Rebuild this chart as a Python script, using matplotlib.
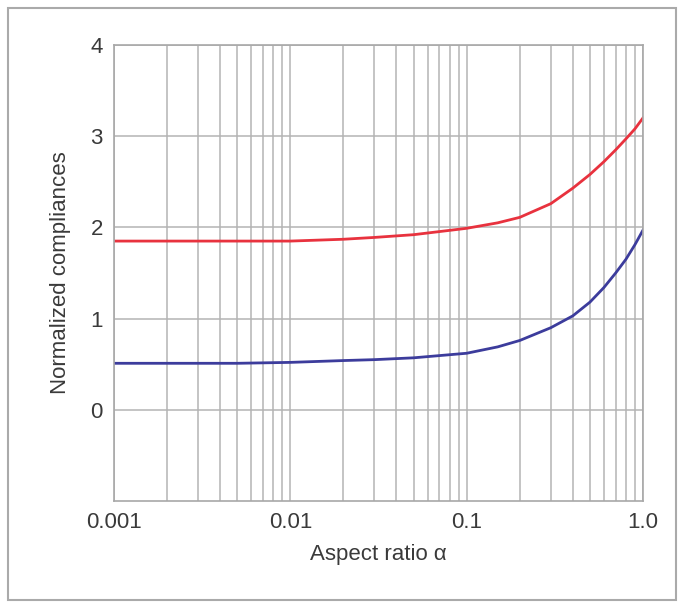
import numpy as np
import matplotlib.pyplot as plt
from matplotlib.patches import Rectangle
from matplotlib.ticker import FixedLocator, LogLocator, NullFormatter

plt.rcParams["font.family"] = ["Liberation Sans", "DejaVu Sans"]

# values
alpha = [0.001, 0.002, 0.005, 0.01, 0.02, 0.03, 0.05, 0.1, 0.15, 0.2,
         0.3, 0.4, 0.5, 0.6, 0.7, 0.8, 0.9, 1.0]
upper = [1.85, 1.85, 1.85, 1.85, 1.87, 1.89, 1.92, 1.99, 2.05, 2.11,
         2.26, 2.43, 2.58, 2.72, 2.85, 2.97, 3.08, 3.20]
lower = [0.51, 0.51, 0.51, 0.52, 0.54, 0.55, 0.57, 0.62, 0.69, 0.76,
         0.90, 1.03, 1.18, 1.34, 1.50, 1.65, 1.81, 1.97]

x_ticks = [0.001, 0.01, 0.1, 1.0]
x_labels = ["0.001", "0.01", "0.1", "1.0"]
y_ticks = [0, 1, 2, 3, 4]

fig = plt.figure(figsize=(6.83, 6.07), dpi=100)
ax = fig.add_axes([0.1669, 0.1746, 0.7745, 0.7513])

ax.plot(alpha, upper, color="#e8323e", lw=2.0)
ax.plot(alpha, lower, color="#3c3c9c", lw=2.0)

ax.set_xscale("log")
ax.set_xlim(0.001, 1.0)
ax.set_ylim(-1, 4)
ax.xaxis.set_major_locator(FixedLocator(x_ticks))
ax.set_xticklabels(x_labels)
ax.xaxis.set_minor_locator(LogLocator(base=10, subs=np.arange(2, 10)))
ax.xaxis.set_minor_formatter(NullFormatter())
ax.set_yticks(y_ticks)

ax.grid(which="both", axis="x", color="#b4b4b4", lw=1.1)
ax.grid(which="major", axis="y", color="#b4b4b4", lw=1.1)
ax.set_axisbelow(True)
for s in ax.spines.values():
    s.set_color("#a8a8a8")
    s.set_linewidth(1.2)
ax.tick_params(which="both", length=0, labelsize=16, labelcolor="#3a3a3a", pad=8)

ax.set_xlabel("Aspect ratio \u03b1", fontsize=16, color="#3a3a3a", labelpad=8)
ax.set_ylabel("Normalized compliances", fontsize=16, color="#3a3a3a", labelpad=14)

fig.patches.append(Rectangle((8 / 683, 7 / 607), 668 / 683, 592 / 607,
                             transform=fig.transFigure, fill=False,
                             edgecolor="#aaaaaa", lw=1.5))

fig.savefig("out.png", dpi=100)
